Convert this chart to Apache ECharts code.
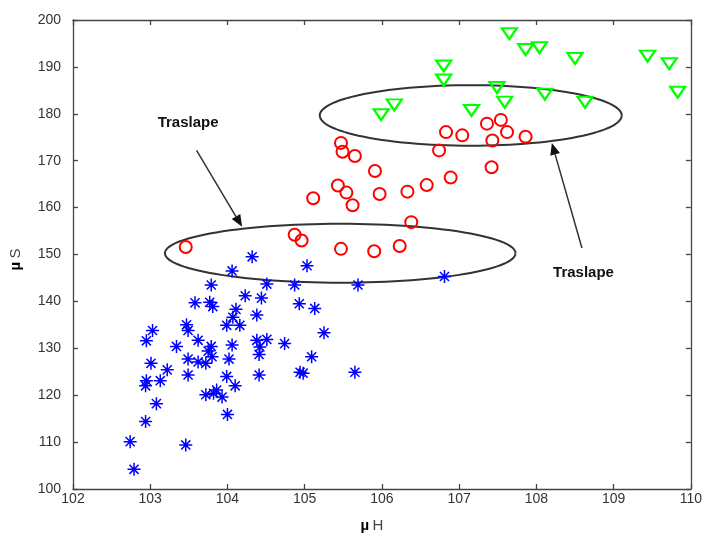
<!DOCTYPE html>
<html>
<head>
<meta charset="utf-8">
<script src="https://cdn.jsdelivr.net/npm/echarts@6/dist/echarts.min.js"></script>
<style>html,body{margin:0;padding:0;background:#fff}#c{width:705px;height:538px}</style>
</head>
<body>
<div id="c"></div>
<script>
// Blue stars (class 1)
var starH = [104.32,104.06,105.03,103.79,104.51,104.87,105.69,103.58,103.77,103.81,104.23,104.44,104.93,105.13,104.11,104.07,104.38,104.16,103.99,103.47,103.49,103.03,102.95,103.62,103.34,103.79,103.75,104.06,104.38,104.51,104.42,104.41,104.74,105.25,103.49,103.62,103.80,103.72,104.02,103.01,103.22,103.13,102.95,102.94,103.49,103.99,104.10,104.41,104.94,104.98,105.09,105.65,103.72,103.82,103.93,103.86,103.08,104.00,102.94,102.74,103.46,102.79,106.81];
var starS = [149.5,146.5,147.6,143.5,143.7,143.5,143.5,139.7,139.8,138.9,141.2,140.7,139.5,138.5,138.3,136.6,137.1,134.9,134.9,135.0,133.8,133.8,131.6,131.7,130.4,130.4,129.4,130.7,131.7,131.9,130.3,128.7,131.0,133.3,127.7,127.1,128.2,126.8,127.7,126.8,125.4,123.1,123.1,122.0,124.3,124.0,122.0,124.3,124.9,124.7,128.2,124.9,120.1,120.4,119.6,121.1,118.2,115.9,114.4,110.1,109.4,104.2,145.3];
// Red circles (class 2)
var circH = [103.46,104.87,104.96,105.47,105.90,106.23,106.38,105.11,105.43,105.54,105.62,105.97,106.33,106.58,106.89,107.42,105.91,105.47,105.49,105.65,106.74,106.83,107.04,107.36,107.54,107.62,107.43,107.86];
var circS = [151.6,154.2,153.0,151.2,150.7,151.8,156.9,162.0,164.7,163.2,160.5,162.9,163.4,164.8,166.4,168.6,167.8,173.8,171.9,171.0,172.2,176.1,175.4,177.9,178.7,176.1,174.3,175.1];
// Green triangles (class 3)
var triH = [107.65,107.86,108.04,108.50,109.44,109.72,109.83,106.80,106.80,107.49,107.59,108.11,108.63,107.16,106.16,105.99];
var triS = [197.1,193.7,194.1,191.8,192.3,190.7,184.6,190.2,187.2,185.6,182.5,184.2,182.5,180.7,181.9,179.8];
// Overlap ellipses: center H, center S, half-width H, half-height S
var ellH = [107.15, 105.46];
var ellS = [179.65, 150.27];
var ellRH = [1.955, 2.27];
var ellRS = [6.45, 6.28];
// Annotation arrows (tail -> tip) and labels
var arrowFromH = [103.60, 108.59];
var arrowFromS = [172.2, 151.4];
var arrowToH = [104.19, 108.20];
var arrowToS = [155.9, 173.8];
var noteText = ['Traslape', 'Traslape'];
var noteH = [103.49, 108.61];
var noteS = [178.1, 146.0];
var xTicks = [102, 110, 1];
var yTicks = [100, 200, 10];

function pairs(a, b) { return a.map(function (v, i) { return [v, b[i]]; }); }

var chart = echarts.init(document.getElementById('c'), null, {renderer: 'canvas'});
var axisCol = '#444';
var lblFont = 'Liberation Sans, Arial, sans-serif';
function ax(extra) {
  return Object.assign({
    splitLine: {show: false},
    axisLine: {show: true, onZero: false, lineStyle: {color: axisCol, width: 1.3}},
    axisTick: {show: true, inside: true, length: 5, lineStyle: {color: axisCol, width: 1.3}},
  }, extra);
}
var nameRich = {b: {fontWeight: 'bold', color: '#000', fontSize: 15, fontFamily: lblFont}, n: {color: '#444', fontSize: 15, fontFamily: lblFont}};
var option = {
  animation: false,
  backgroundColor: '#fff',
  grid: {left: 72.5, right: 12.5, top: 20, bottom: 44, containLabel: false},
  xAxis: [
    ax({type: 'value', min: xTicks[0], max: xTicks[1], interval: xTicks[2], position: 'bottom',
      axisLabel: {color: '#333', fontSize: 14, fontFamily: lblFont, margin: 3},
      name: '{b|\u00b5} {n|H}', nameLocation: 'middle', nameGap: 29,
      nameTextStyle: {rich: nameRich, padding: [0, 20, 0, 0]}}),
    ax({type: 'value', min: xTicks[0], max: xTicks[1], interval: xTicks[2], position: 'top', axisLabel: {show: false}})
  ],
  yAxis: [
    ax({type: 'value', min: yTicks[0], max: yTicks[1], interval: yTicks[2], position: 'left',
      axisLabel: {color: '#333', fontSize: 14, fontFamily: lblFont, margin: 12},
      name: '{b|\u00b5} {n|S}', nameLocation: 'middle', nameGap: 50, nameRotate: 90,
      nameTextStyle: {rich: nameRich, padding: [0, 10, 0, 0]}}),
    ax({type: 'value', min: yTicks[0], max: yTicks[1], interval: yTicks[2], position: 'right', axisLabel: {show: false}})
  ],
  series: [
    {
      type: 'custom', xAxisIndex: 0, yAxisIndex: 0, z: 1,
      data: ellH.map(function (v, i) { return [v, ellS[i], ellRH[i], ellRS[i]]; }),
      renderItem: function (params, api) {
        var c = api.coord([api.value(0), api.value(1)]);
        var s = api.size([api.value(2), api.value(3)]);
        var pts = [];
        for (var k = 0; k <= 120; k++) {
          var t = k / 120 * Math.PI * 2;
          pts.push([c[0] + s[0] * Math.cos(t), c[1] + s[1] * Math.sin(t)]);
        }
        return {type: 'polyline', shape: {points: pts}, style: {stroke: '#333', lineWidth: 2, fill: null}};
      }
    },
    {
      type: 'scatter', name: 'stars', data: pairs(starH, starS), z: 3,
      symbol: 'path://M0,-10L0,10M-10,0L10,0M-7,-7L7,7M-7,7L7,-7',
      symbolSize: 13,
      itemStyle: {color: 'rgba(0,0,0,0)', borderColor: '#0000ff', borderWidth: 1.5, opacity: 1}
    },
    {
      type: 'scatter', name: 'circles', data: pairs(circH, circS), z: 3,
      symbol: 'circle', symbolSize: 12,
      itemStyle: {color: 'rgba(0,0,0,0)', borderColor: '#ff0000', borderWidth: 2, opacity: 1}
    },
    {
      type: 'scatter', name: 'triangles', data: pairs(triH, triS), z: 3,
      symbol: 'path://M0,0L16,0L8,12Z', symbolSize: [15, 11],
      itemStyle: {color: 'rgba(0,0,0,0)', borderColor: '#00ff00', borderWidth: 2.2, opacity: 1}
    },
    {
      type: 'custom', z: 4,
      data: arrowFromH.map(function (v, i) { return [v, arrowFromS[i], arrowToH[i], arrowToS[i]]; }),
      renderItem: function (params, api) {
        var a = api.coord([api.value(0), api.value(1)]);
        var b = api.coord([api.value(2), api.value(3)]);
        var dx = b[0] - a[0], dy = b[1] - a[1];
        var L = Math.sqrt(dx * dx + dy * dy);
        var ux = dx / L, uy = dy / L;
        var hl = 12, hw = 5;
        var bx = b[0] - ux * hl, by = b[1] - uy * hl;
        return {type: 'group', children: [
          {type: 'line', shape: {x1: a[0], y1: a[1], x2: bx, y2: by}, style: {stroke: '#333', lineWidth: 1.5}},
          {type: 'polygon', shape: {points: [[b[0], b[1]], [bx - uy * hw, by + ux * hw], [bx + uy * hw, by - ux * hw]]}, style: {fill: '#111'}}
        ]};
      }
    },
    {
      type: 'custom', z: 4,
      data: noteH.map(function (v, i) { return [v, noteS[i], i]; }),
      renderItem: function (params, api) {
        var p = api.coord([api.value(0), api.value(1)]);
        return {type: 'text', x: p[0], y: p[1], style: {text: noteText[api.value(2)], fill: '#111', font: 'bold 15px Liberation Sans, Arial, sans-serif', align: 'center', verticalAlign: 'middle'}};
      }
    }
  ]
};
chart.setOption(option);
</script>
</body>
</html>
